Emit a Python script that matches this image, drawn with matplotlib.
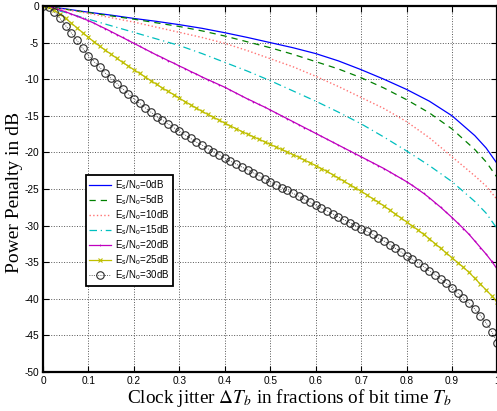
import matplotlib
matplotlib.use("Agg")
import matplotlib.pyplot as plt
import numpy as np

# jitter in fractions of bit time
x_line = [0, 0.05, 0.1, 0.15, 0.2, 0.25, 0.3, 0.35, 0.4, 0.45, 0.5,
          0.55, 0.6, 0.65, 0.7, 0.75, 0.8, 0.85, 0.9, 0.95, 0.975, 1.0]
x_dense = np.linspace(0, 1, 81)

pp_0db = [0, -0.4, -0.85, -1.25, -1.7, -2.1, -2.55, -3.05, -3.65, -4.3, -5.0,
          -5.7, -6.5, -7.5, -8.7, -10.0, -11.4, -13.0, -15.0, -17.7, -19.4, -21.6]
pp_5db = [0, -0.45, -0.9, -1.35, -1.8, -2.3, -2.8, -3.4, -4.1, -4.9, -5.7,
          -6.6, -7.6, -8.6, -9.8, -11.2, -12.8, -14.6, -16.8, -19.6, -21.3, -23.5]
pp_10db = [0, -0.5, -1.0, -1.6, -2.2, -2.9, -3.6, -4.3, -5.1, -6.1, -7.2,
           -8.3, -9.6, -11.0, -12.5, -14.0, -15.8, -18.0, -20.6, -23.2, -24.6, -26.5]
pp_15db = [0, -0.9, -1.8, -2.7, -3.6, -4.5, -5.4, -6.5, -7.7, -8.9, -10.2,
           -11.6, -13.0, -14.5, -16.1, -17.9, -19.8, -21.8, -24.0, -26.7, -28.3, -30.5]

pp_20db = [0, -0.1, -0.3, -0.55, -0.8, -1.1, -1.4, -1.7, -2.0, -2.35, -2.75, -3.1,
           -3.5, -3.9, -4.3, -4.7, -5.1, -5.5, -5.9, -6.3, -6.7, -7.05, -7.45, -7.8,
           -8.2, -8.55, -8.95, -9.3, -9.7, -10.05, -10.4, -10.75, -11.1, -11.5, -11.9, -12.3,
           -12.7, -13.05, -13.45, -13.8, -14.2, -14.6, -15.0, -15.4, -15.8, -16.2, -16.6, -17.0,
           -17.4, -17.8, -18.2, -18.6, -19.0, -19.4, -19.8, -20.2, -20.6, -21.0, -21.4, -21.8,
           -22.2, -22.65, -23.1, -23.55, -24.0, -24.5, -25.05, -25.6, -26.2, -26.85, -27.5, -28.2,
           -28.9, -29.65, -30.4, -31.2, -32.1, -33.0, -33.9, -34.9, -36.0]
pp_25db = [0, -0.2, -0.6, -1.1, -1.7, -2.35, -3.0, -3.65, -4.3, -4.9, -5.5, -6.05,
           -6.6, -7.15, -7.7, -8.2, -8.7, -9.2, -9.7, -10.2, -10.7, -11.2, -11.65, -12.1,
           -12.6, -13.05, -13.5, -13.95, -14.4, -14.8, -15.2, -15.6, -16.0, -16.4, -16.75, -17.15,
           -17.5, -17.85, -18.2, -18.55, -18.9, -19.25, -19.6, -19.95, -20.3, -20.65, -21.05, -21.4,
           -21.8, -22.2, -22.6, -23.05, -23.5, -23.95, -24.4, -24.85, -25.3, -25.8, -26.3, -26.8,
           -27.3, -27.85, -28.4, -28.95, -29.5, -30.05, -30.6, -31.2, -31.8, -32.45, -33.1, -33.75,
           -34.4, -35.05, -35.7, -36.4, -37.2, -38.0, -38.8, -39.6, -40.5]
pp_30db = [0, -0.2, -0.8, -1.7, -2.7, -3.7, -4.7, -5.8, -6.8, -7.6, -8.4, -9.2,
           -9.9, -10.6, -11.3, -12.0, -12.7, -13.3, -13.9, -14.5, -15.1, -15.6, -16.1, -16.6,
           -17.1, -17.6, -18.1, -18.6, -19.0, -19.5, -19.9, -20.3, -20.8, -21.2, -21.6, -22.0,
           -22.4, -22.8, -23.2, -23.6, -24.0, -24.4, -24.8, -25.2, -25.6, -26.0, -26.4, -26.8,
           -27.2, -27.6, -28.0, -28.4, -28.8, -29.2, -29.6, -30.0, -30.4, -30.8, -31.2, -31.7,
           -32.1, -32.6, -33.1, -33.6, -34.1, -34.6, -35.1, -35.6, -36.2, -36.7, -37.3, -37.9,
           -38.5, -39.2, -39.9, -40.6, -41.4, -42.3, -43.3, -44.5, -46.0]

labels = ["0dB", "5dB", "10dB", "15dB", "20dB", "25dB", "30dB"]

plt.rcParams['mathtext.fontset'] = 'stix'
plt.rcParams['font.family'] = ['Liberation Sans', 'DejaVu Sans']
plt.rcParams['axes.unicode_minus'] = False

fig = plt.figure(figsize=(4.97, 4.11), dpi=100)
ax = fig.add_axes([0.0865, 0.0949, 0.9145, 0.8905])


def lab(s):
    return r'E$_\mathregular{s}$/N$_\mathregular{o}$=' + s


ax.plot(x_line, pp_0db, '-', color=(0, 0, 1), lw=0.9, label=lab(labels[0]))
ax.plot(x_line, pp_5db, '--', color=(0, 0.5, 0), lw=0.9, dashes=(5, 4), label=lab(labels[1]))
ax.plot(x_line, pp_10db, ':', color=(1, 0.45, 0.45), lw=1.0, label=lab(labels[2]))
ax.plot(x_line, pp_15db, '-.', color=(0, 0.75, 0.75), lw=0.9, dashes=(6, 3, 1, 3), label=lab(labels[3]))
ax.plot(x_dense, pp_20db, '-', color=(0.75, 0, 0.75), lw=0.9, marker='+', ms=2, mew=0.5,
        label=lab(labels[4]))
ax.plot(x_dense, pp_25db, '-', color=(0.75, 0.75, 0), lw=0.9, marker='x', ms=3.5, mew=0.8,
        label=lab(labels[5]))
ax.plot(x_dense, pp_30db, ':', color='#2a2a2a', lw=0.6, marker='o', ms=5.4, mfc='none', mew=0.8,
        label=lab(labels[6]))

ax.set_xlim(0, 1)
ax.set_ylim(-50, 0)
ax.set_xticks(np.arange(0, 1.01, 0.1))
ax.set_xticklabels(['0', '0.1', '0.2', '0.3', '0.4', '0.5', '0.6', '0.7', '0.8', '0.9', '1'])
ax.set_yticks(np.arange(-50, 1, 5))
ax.tick_params(direction='in', length=4, width=0.8, labelsize=7.3, top=True, right=True, pad=3)
ax.grid(True, linestyle=':', color='#555555', lw=0.7)
for sp in ax.spines.values():
    sp.set_linewidth(1.6)

ax.set_xlabel(r'Clock jitter $\Delta T_b$ in fractions of bit time $T_b$',
              family=['Liberation Serif'], fontsize=13.9)
ax.xaxis.set_label_coords(0.542, -0.04)
ax.set_ylabel('Power Penalty in dB', family=['Liberation Serif'], fontsize=14)
ax.yaxis.set_label_coords(-0.045, 0.49)

leg = ax.legend(loc='upper left', bbox_to_anchor=(0.094, 0.537), fontsize=7, numpoints=1,
                handlelength=2.2, handletextpad=0.5, labelspacing=0.15, borderpad=0.35,
                borderaxespad=0, fancybox=False, framealpha=1)
leg.get_frame().set_edgecolor('black')
leg.get_frame().set_linewidth(1.3)

fig.savefig('out.png', dpi=100)
